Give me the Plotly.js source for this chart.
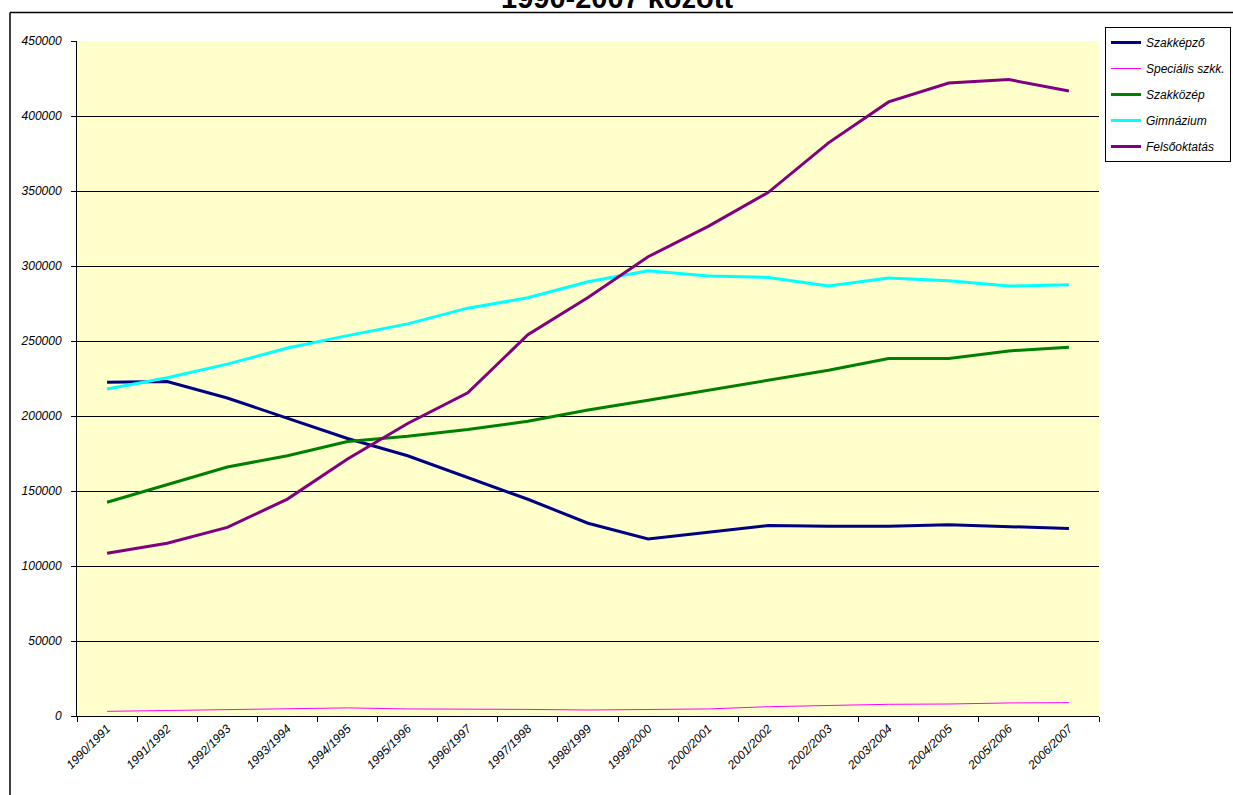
<!DOCTYPE html>
<html>
<head>
<meta charset="utf-8">
<script src="https://cdn.plot.ly/plotly-3.0.1.min.js"></script>
<style>
  html, body { margin: 0; padding: 0; background: #ffffff; }
  #chart { width: 1233px; height: 795px; }
</style>
</head>
<body>
<div id="chart"></div>
<script>
const categories = ['1990/1991','1991/1992','1992/1993','1993/1994','1994/1995','1995/1996','1996/1997','1997/1998','1998/1999','1999/2000','2000/2001','2001/2002','2002/2003','2003/2004','2004/2005','2005/2006','2006/2007'];

const szakkepzo = [222500, 223000, 212000, 198500, 185000, 173500, 159000, 144500, 128500, 118000, 122500, 127000, 126500, 126500, 127500, 126500, 125000];
const specialis = [3100, 3800, 4000, 4700, 5400, 4700, 4700, 4400, 4000, 4400, 4700, 6200, 7100, 7800, 8000, 8700, 8900];
const szakkozep = [142500, 154500, 166000, 173500, 183000, 186500, 191000, 196500, 204000, 210500, 217000, 224000, 230500, 238300, 238300, 243400, 245800];
const gimnazium = [218000, 225500, 234600, 245300, 253600, 261400, 271900, 278800, 289500, 296900, 293300, 292400, 286600, 292000, 290200, 286600, 287500];
const felsooktatas = [108500, 115200, 125700, 144600, 171400, 195000, 215500, 254200, 279000, 306200, 326400, 349100, 382100, 409400, 422000, 424300, 416700];

const seriesNames = ['Szakképző', 'Speciális szkk.', 'Szakközép', 'Gimnázium', 'Felsőoktatás'];
const titleText = '1990-2007 között';

const FONT = 'Liberation Sans, Arial, sans-serif';

const mk = (name, y, color, width, grp) => ({
  type: 'scatter', mode: 'lines', name: name, x: categories, y: y,
  line: {color: color, width: width},
  legendgroup: grp,
  hoverinfo: 'x+y+name'
});

const data = [
  mk(seriesNames[0], szakkepzo, '#000080', 3, 'a'),
  mk(seriesNames[1], specialis, '#FF00FF', 1, 'b'),
  mk(seriesNames[2], szakkozep, '#008000', 3, 'c'),
  mk(seriesNames[3], gimnazium, '#00FFFF', 3, 'd'),
  mk(seriesNames[4], felsooktatas, '#800080', 3, 'e')
];

const W = 1233, H = 795, L = 77, R = 134, T = 41, B = 79;
const pw = W - L - R, ph = H - T - B;
const px2x = p => (p - L) / pw;
const py2y = p => (H - B - p) / ph;

const layout = {
  width: W, height: H,
  margin: {l: L, r: R, t: T, b: B, pad: 0, autoexpand: false},
  paper_bgcolor: '#ffffff',
  plot_bgcolor: '#FFFFCC',
  font: {family: FONT, size: 12, color: '#000000'},
  annotations: [{
    text: '<b>' + titleText + '</b>',
    font: {family: FONT, size: 29, color: '#000000'},
    xref: 'paper', yref: 'paper',
    x: px2x(617), xanchor: 'center',
    y: py2y(16.3), yanchor: 'bottom',
    showarrow: false, borderpad: 1
  }],
  xaxis: {
    type: 'category',
    tickson: 'boundaries',
    ticks: 'outside', ticklen: 5, tickcolor: '#000000', tickwidth: 1,
    showline: true, linecolor: '#000000', linewidth: 1,
    showgrid: false,
    tickangle: -45,
    tickfont: {family: FONT, size: 12, style: 'italic', color: '#000000'},
    range: [-0.5, 16.5],
    automargin: false,
    fixedrange: true
  },
  yaxis: {
    range: [0, 450000],
    dtick: 50000, tick0: 0,
    tickformat: 'd',
    ticks: 'outside', ticklen: 5, tickcolor: '#000000', tickwidth: 1,
    showline: true, linecolor: '#000000', linewidth: 1,
    showgrid: true, gridcolor: '#000000', gridwidth: 1,
    zeroline: false,
    tickfont: {family: FONT, size: 12, style: 'italic', color: '#000000'},
    ticklabelstandoff: 7,
    automargin: false,
    fixedrange: true
  },
  showlegend: true,
  legend: {
    x: px2x(1105), xanchor: 'left',
    y: py2y(27), yanchor: 'top',
    bgcolor: '#ffffff',
    bordercolor: '#000000', borderwidth: 1,
    font: {family: FONT, size: 12, style: 'italic', color: '#000000'},
    tracegroupgap: 7,
    itemwidth: 30,
    traceorder: 'grouped'
  },
  shapes: [
    {type: 'line', xref: 'paper', yref: 'paper', x0: px2x(10), x1: px2x(1300), y0: py2y(12.5), y1: py2y(12.5), line: {color: '#000000', width: 1.5}},
    {type: 'line', xref: 'paper', yref: 'paper', x0: px2x(10), x1: px2x(10), y0: py2y(12.5), y1: py2y(820), line: {color: '#000000', width: 1.5}}
  ]
};

Plotly.newPlot('chart', data, layout, {displayModeBar: false, staticPlot: true});
</script>
</body>
</html>
